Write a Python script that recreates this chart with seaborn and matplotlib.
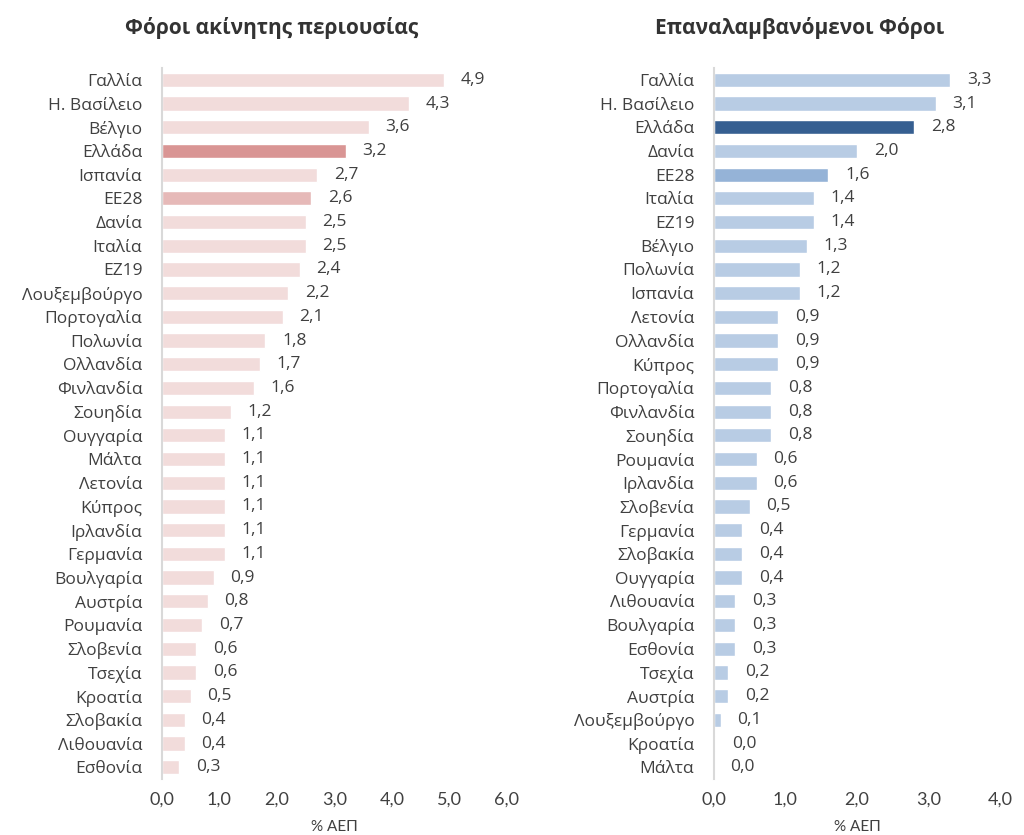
import matplotlib
matplotlib.use("Agg")
import matplotlib.pyplot as plt
import seaborn as sns

left_countries = ["Γαλλία", "Η. Βασίλειο", "Βέλγιο", "Ελλάδα", "Ισπανία", "ΕΕ28", "Δανία", "Ιταλία",
                  "ΕΖ19", "Λουξεμβούργο", "Πορτογαλία", "Πολωνία", "Ολλανδία", "Φινλανδία", "Σουηδία",
                  "Ουγγαρία", "Μάλτα", "Λετονία", "Κύπρος", "Ιρλανδία", "Γερμανία", "Βουλγαρία",
                  "Αυστρία", "Ρουμανία", "Σλοβενία", "Τσεχία", "Κροατία", "Σλοβακία", "Λιθουανία", "Εσθονία"]
left_values = [4.9, 4.3, 3.6, 3.2, 2.7, 2.6, 2.5, 2.5, 2.4, 2.2, 2.1, 1.8, 1.7, 1.6, 1.2,
               1.1, 1.1, 1.1, 1.1, 1.1, 1.1, 0.9, 0.8, 0.7, 0.6, 0.6, 0.5, 0.4, 0.4, 0.3]

right_countries = ["Γαλλία", "Η. Βασίλειο", "Ελλάδα", "Δανία", "ΕΕ28", "Ιταλία", "ΕΖ19", "Βέλγιο",
                   "Πολωνία", "Ισπανία", "Λετονία", "Ολλανδία", "Κύπρος", "Πορτογαλία", "Φινλανδία",
                   "Σουηδία", "Ρουμανία", "Ιρλανδία", "Σλοβενία", "Γερμανία", "Σλοβακία", "Ουγγαρία",
                   "Λιθουανία", "Βουλγαρία", "Εσθονία", "Τσεχία", "Αυστρία", "Λουξεμβούργο", "Κροατία", "Μάλτα"]
right_values = [3.3, 3.1, 2.8, 2.0, 1.6, 1.4, 1.4, 1.3, 1.2, 1.2, 0.9, 0.9, 0.9, 0.8, 0.8,
                0.8, 0.6, 0.6, 0.5, 0.4, 0.4, 0.4, 0.3, 0.3, 0.3, 0.2, 0.2, 0.1, 0.02, 0.0]
right_labels_values = [3.3, 3.1, 2.8, 2.0, 1.6, 1.4, 1.4, 1.3, 1.2, 1.2, 0.9, 0.9, 0.9, 0.8, 0.8,
                       0.8, 0.6, 0.6, 0.5, 0.4, 0.4, 0.4, 0.3, 0.3, 0.3, 0.2, 0.2, 0.1, 0.0, 0.0]

left_title = "Φόροι ακίνητης περιουσίας"
right_title = "Επαναλαμβανόμενοι Φόροι"
x_label = "% ΑΕΠ"
left_ticks = [0, 1, 2, 3, 4, 5, 6]
right_ticks = [0, 1, 2, 3, 4]

sns.set_theme(style="white")
plt.rcParams["font.family"] = ["Open Sans", "DejaVu Sans"]

TXT = "#404040"

def colors_for(countries, base, greece, eu):
    out = []
    for c in countries:
        if c == "Ελλάδα":
            out.append(greece)
        elif c == "ΕΕ28":
            out.append(eu)
        else:
            out.append(base)
    return out

fig = plt.figure(figsize=(10.24, 8.35), dpi=100)
ax1 = fig.add_axes([0.158, 0.067, 0.337, 0.8516])
ax2 = fig.add_axes([0.697, 0.067, 0.280, 0.8516])

panels = [
    (ax1, left_countries, left_values, left_values, colors_for(left_countries, "#F2DCDB", "#D99594", "#E6B9B8"),
     left_ticks, left_title, 0.265),
    (ax2, right_countries, right_values, right_labels_values,
     colors_for(right_countries, "#B8CCE4", "#365F91", "#95B3D7"), right_ticks, right_title, 0.781),
]

for ax, cats, vals, labvals, cols, ticks, title, tx in panels:
    sns.barplot(x=vals, y=cats, hue=cats, palette=cols, legend=False, ax=ax, width=0.6,
                saturation=1, orient="h")
    ax.set_xlim(ticks[0], ticks[-1])
    ax.set_ylim(len(cats) - 0.5, -0.5)
    ax.set_xticks(ticks)
    ax.set_xticklabels([f"{t:.1f}".replace(".", ",") for t in ticks], fontsize=13, color=TXT,
                       family=["Lato", "DejaVu Sans"])
    ax.tick_params(axis="x", length=0, pad=9)
    ax.tick_params(axis="y", length=0, pad=14, labelsize=12.5, labelcolor=TXT)
    for s in ["top", "right", "bottom"]:
        ax.spines[s].set_visible(False)
    ax.spines["left"].set_color("#D9D9D9")
    ax.spines["left"].set_linewidth(1.5)
    ax.set_ylabel("")
    ax.set_xlabel(x_label, fontsize=11, color=TXT, labelpad=9, family=["Lato", "DejaVu Sans"])
    for i, v in enumerate(labvals):
        ax.annotate(f"{v:.1f}".replace(".", ","), xy=(vals[i], i), xytext=(12, 0),
                    textcoords="offset points", va="center", ha="left", fontsize=12.5, color=TXT)
    fig.text(tx, 0.966, title, fontsize=15, fontweight="bold", color="#333333", ha="center", va="center")

fig.savefig("out.png", dpi=100)
